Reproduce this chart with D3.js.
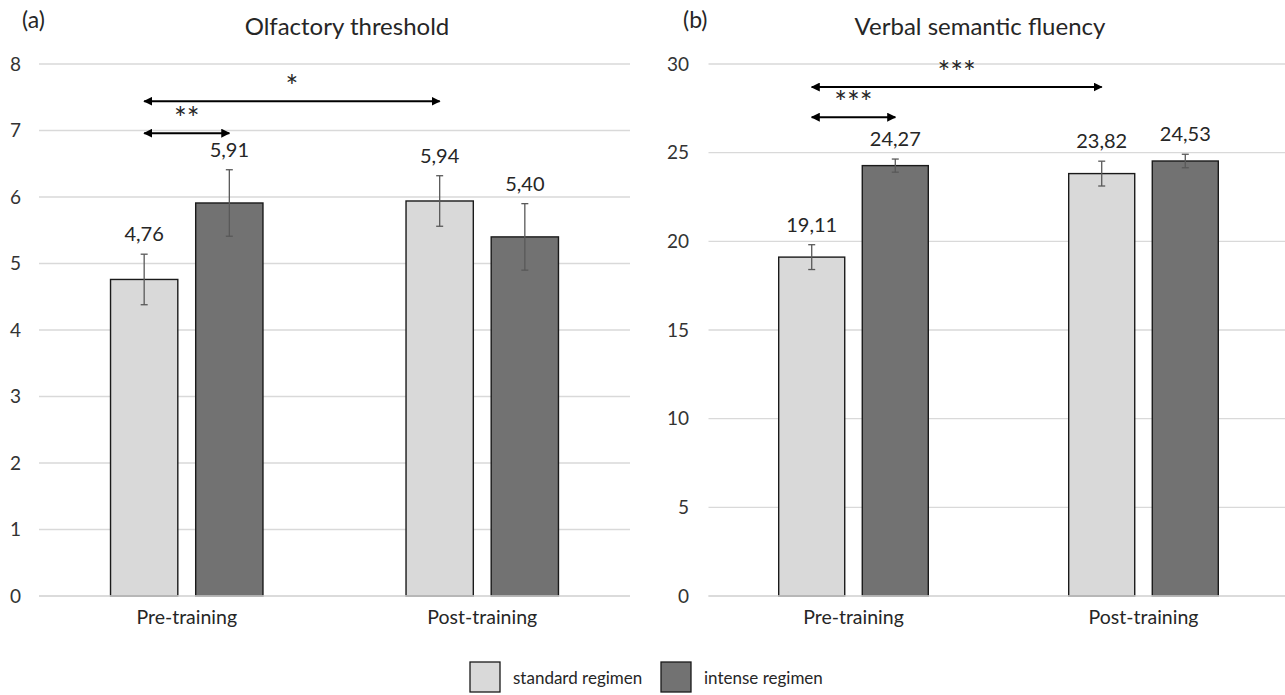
<!DOCTYPE html>
<html>
<head>
<meta charset="utf-8">
<script src="https://cdn.jsdelivr.net/npm/d3@7"></script>
<style>
  html, body { margin: 0; padding: 0; background: #fff; }
  svg { display: block; }
  text { font-family: "Lato", "Open Sans", sans-serif; }
</style>
</head>
<body>
<svg id="chart" width="1285" height="695"></svg>
<script>
// ---------- data ----------
const categories = ["Pre-training", "Post-training"];
const seriesNames = ["standard regimen", "intense regimen"];

const olfactoryStandard = [4.76, 5.94];
const olfactoryIntense = [5.91, 5.40];
const olfactoryStandardErr = [0.38, 0.38];
const olfactoryIntenseErr = [0.50, 0.50];
const olfactoryTicks = [0, 1, 2, 3, 4, 5, 6, 7, 8];

const fluencyStandard = [19.11, 23.82];
const fluencyIntense = [24.27, 24.53];
const fluencyStandardErr = [0.70, 0.70];
const fluencyIntenseErr = [0.37, 0.38];
const fluencyTicks = [0, 5, 10, 15, 20, 25, 30];

// significance comparisons: [category, series] -> [category, series]
const olfactorySig = [
  { from: ["Pre-training", "standard regimen"], to: ["Pre-training", "intense regimen"], stars: "**", level: 6.96 },
  { from: ["Pre-training", "standard regimen"], to: ["Post-training", "standard regimen"], stars: "*", level: 7.44 }
];
const fluencySig = [
  { from: ["Pre-training", "standard regimen"], to: ["Pre-training", "intense regimen"], stars: "***", level: 27.0 },
  { from: ["Pre-training", "standard regimen"], to: ["Post-training", "standard regimen"], stars: "***", level: 28.7 }
];

// ---------- styles ----------
const colors = { "standard regimen": "#d9d9d9", "intense regimen": "#727272" };
const textColor = "#262626";
const tickColor = "#333333";
const gridColor = "#d9d9d9";

const svg = d3.select("#chart");
const defs = svg.append("defs");
defs.append("marker").attr("id", "ah").attr("viewBox", "0 0 10 10")
  .attr("refX", 9).attr("refY", 5).attr("markerWidth", 4.5).attr("markerHeight", 4.5)
  .attr("markerUnits", "strokeWidth").attr("orient", "auto-start-reverse")
  .append("path").attr("d", "M0,0 L10,5 L0,10 Z").attr("fill", "#000");

const fmt = v => d3.format(".2f")(v).replace(".", ",");

function drawPanel(cfg) {
  const g = svg.append("g");
  const x = d3.scaleBand().domain(categories).range(cfg.xRange);
  const xs = d3.scaleBand().domain(seriesNames).range([0, x.bandwidth()])
    .paddingInner(0.21).paddingOuter(0.84);
  const y = d3.scaleLinear().domain([0, cfg.max]).range([596, 64]);

  // gridlines
  g.selectAll("line.grid").data(cfg.ticks).join("line")
    .attr("x1", cfg.xRange[0]).attr("x2", cfg.xRange[1])
    .attr("y1", d => y(d)).attr("y2", d => y(d))
    .attr("stroke", gridColor).attr("stroke-width", 1.3);

  // y axis labels
  const yAxis = d3.axisLeft(y).tickValues(cfg.ticks).tickSize(0).tickPadding(0);
  const ya = g.append("g").attr("transform", `translate(${cfg.tickX},0)`).call(yAxis);
  ya.select(".domain").remove();
  ya.selectAll("text").attr("font-size", 19).attr("fill", tickColor)
    .attr("font-family", "Lato, sans-serif");

  // x axis labels
  const xAxis = d3.axisBottom(x).tickSize(0).tickPadding(0);
  const xa = g.append("g").attr("transform", `translate(0,610)`).call(xAxis);
  xa.select(".domain").remove();
  xa.selectAll("text").attr("font-size", 19.5).attr("fill", textColor)
    .attr("font-family", "Lato, sans-serif");

  const rows = [];
  categories.forEach((c, i) => {
    rows.push({ cat: c, ser: seriesNames[0], v: cfg.std[i], e: cfg.stdErr[i] });
    rows.push({ cat: c, ser: seriesNames[1], v: cfg.int[i], e: cfg.intErr[i] });
  });
  const cx = d => x(d.cat) + xs(d.ser) + xs.bandwidth() / 2;

  // bars
  g.selectAll("rect.bar").data(rows).join("rect")
    .attr("x", d => x(d.cat) + xs(d.ser))
    .attr("y", d => y(d.v))
    .attr("width", xs.bandwidth())
    .attr("height", d => y(0) - y(d.v))
    .attr("fill", d => colors[d.ser])
    .attr("stroke", "#1a1a1a").attr("stroke-width", 1.4);

  // baseline
  g.append("line").attr("x1", cfg.xRange[0]).attr("x2", cfg.xRange[1])
    .attr("y1", y(0)).attr("y2", y(0)).attr("stroke", gridColor).attr("stroke-width", 1.3);

  // error bars
  const eb = g.selectAll("g.err").data(rows).join("g").attr("stroke", "#595959").attr("stroke-width", 1.3);
  eb.append("line").attr("x1", cx).attr("x2", cx)
    .attr("y1", d => y(d.v + d.e)).attr("y2", d => y(d.v - d.e));
  eb.append("line").attr("x1", d => cx(d) - 3.5).attr("x2", d => cx(d) + 3.5)
    .attr("y1", d => y(d.v + d.e)).attr("y2", d => y(d.v + d.e));
  eb.append("line").attr("x1", d => cx(d) - 3.5).attr("x2", d => cx(d) + 3.5)
    .attr("y1", d => y(d.v - d.e)).attr("y2", d => y(d.v - d.e));

  // value labels
  g.selectAll("text.val").data(rows).join("text")
    .attr("x", cx).attr("y", d => y(d.v + d.e) - 13)
    .attr("text-anchor", "middle").attr("font-size", 20).attr("fill", textColor)
    .text(d => fmt(d.v));

  // significance arrows
  const px = p => x(p[0]) + xs(p[1]) + xs.bandwidth() / 2;
  cfg.sig.forEach(s => {
    const x1 = px(s.from), x2 = px(s.to), yy = y(s.level);
    g.append("line").attr("x1", x1).attr("x2", x2).attr("y1", yy).attr("y2", yy)
      .attr("stroke", "#000").attr("stroke-width", 2)
      .attr("marker-start", "url(#ah)").attr("marker-end", "url(#ah)");
    g.append("text").attr("x", (x1 + x2) / 2).attr("y", yy - 4)
      .attr("text-anchor", "middle").attr("font-size", 30).attr("fill", textColor)
      .attr("letter-spacing", 0)
      .text(s.stars);
  });

  // titles
  g.append("text").attr("x", cfg.titleX).attr("y", 35).attr("text-anchor", "middle")
    .attr("font-size", 24).attr("fill", textColor).text(cfg.title);
  g.append("text").attr("x", cfg.letterX).attr("y", 28)
    .attr("font-size", 23).attr("fill", textColor).text(cfg.letter);
}

drawPanel({
  xRange: [39, 630], max: 8, ticks: olfactoryTicks, tickX: 21,
  std: olfactoryStandard, int: olfactoryIntense,
  stdErr: olfactoryStandardErr, intErr: olfactoryIntenseErr,
  sig: olfactorySig, title: "Olfactory threshold", titleX: 347, letter: "(a)", letterX: 22
});
drawPanel({
  xRange: [708.5, 1288.5], max: 30, ticks: fluencyTicks, tickX: 689,
  std: fluencyStandard, int: fluencyIntense,
  stdErr: fluencyStandardErr, intErr: fluencyIntenseErr,
  sig: fluencySig, title: "Verbal semantic fluency", titleX: 980, letter: "(b)", letterX: 683
});

// legend
const legend = svg.append("g");
const legendX = d3.scalePoint().domain(seriesNames).range([470, 661]);
const li = legend.selectAll("g").data(seriesNames).join("g")
  .attr("transform", d => `translate(${legendX(d)},662)`);
li.append("rect").attr("width", 30).attr("height", 30)
  .attr("fill", d => colors[d]).attr("stroke", "#1a1a1a").attr("stroke-width", 1.3);
li.append("text").attr("x", 43).attr("y", 22).attr("font-size", 17).attr("fill", textColor).text(d => d);
</script>
</body>
</html>
